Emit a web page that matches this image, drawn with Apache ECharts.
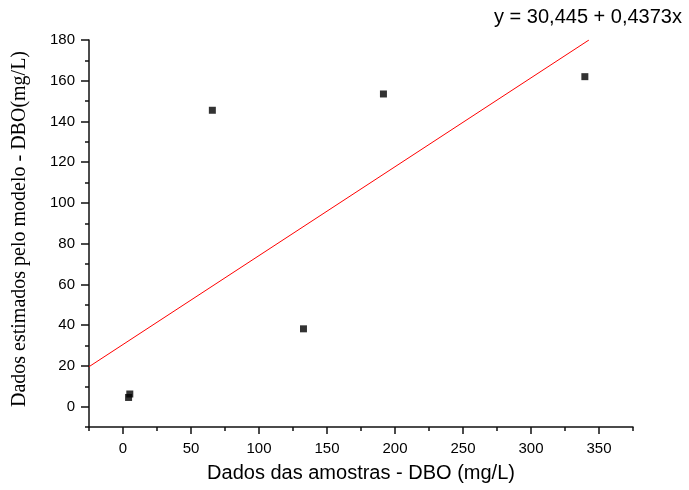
<!DOCTYPE html>
<html>
<head>
<meta charset="utf-8">
<script src="https://cdn.jsdelivr.net/npm/echarts@6/dist/echarts.min.js"></script>
<style>html,body{margin:0;padding:0;background:#fff;}#c{width:689px;height:490px;}</style>
</head>
<body>
<div id="c"></div>
<script>
// Data
const samplePoints = [[4.1, 4.5], [5.0, 6.2], [65.7, 145.5], [132.7, 38.2], [191.5, 153.5], [339.6, 162.0]];
const fitLine = [[-25, 19.6], [342.6, 180]];
const xMajorTicks = [0, 50, 100, 150, 200, 250, 300, 350];
const xMinorTicks = [-25, 25, 75, 125, 175, 225, 275, 325, 375];
const yMajorTicks = [0, 20, 40, 60, 80, 100, 120, 140, 160, 180];
const yMinorTicks = [-10, 10, 30, 50, 70, 90, 110, 130, 150, 170];
const equationText = 'y = 30,445 + 0,4373x';
const xTitle = 'Dados das amostras - DBO (mg/L)';
const yTitle = 'Dados estimados pelo modelo - DBO(mg/L)';

const chart = echarts.init(document.getElementById('c'), null, {renderer: 'canvas'});
const axisCol = '#111';
const sans = 'Liberation Sans';
function xAxisDef(major) {
  return {
    type: 'value', min: -25, max: 375, position: 'bottom', gridIndex: 0,
    axisLine: {show: major, onZero: false, lineStyle: {color: axisCol, width: 1.5}},
    axisTick: {show: true, length: major ? 7 : 4, customValues: major ? xMajorTicks : xMinorTicks,
      lineStyle: {color: axisCol, width: 1.5}},
    axisLabel: {show: major, customValues: xMajorTicks, margin: 14, color: '#000', fontSize: 15, fontFamily: sans},
    splitLine: {show: false}
  };
}
function yAxisDef(major) {
  return {
    type: 'value', min: -10, max: 180, position: 'left', gridIndex: 0,
    axisLine: {show: major, onZero: false, lineStyle: {color: axisCol, width: 1.5}},
    axisTick: {show: true, length: major ? 8 : 4, customValues: major ? yMajorTicks : yMinorTicks,
      lineStyle: {color: axisCol, width: 1.5}},
    axisLabel: {show: major, customValues: yMajorTicks, margin: 14, color: '#000', fontSize: 15, fontFamily: sans},
    splitLine: {show: false}
  };
}
chart.setOption({
  animation: false,
  backgroundColor: '#fff',
  grid: {left: 89, right: 56, top: 40, bottom: 63, containLabel: false},
  xAxis: [xAxisDef(true), xAxisDef(false)],
  yAxis: [yAxisDef(true), yAxisDef(false)],
  series: [
    {
      type: 'line', data: fitLine, xAxisIndex: 0, yAxisIndex: 0, showSymbol: false, symbol: 'none',
      lineStyle: {color: '#ff0000', width: 1}, clip: true, z: 2
    },
    {
      type: 'scatter', data: samplePoints, xAxisIndex: 0, yAxisIndex: 0,
      symbol: 'rect', symbolSize: 7, itemStyle: {color: '#000'}, z: 3
    }
  ],
  graphic: [
    {type: 'text', x: 588, y: 17, style: {text: equationText, font: '20px "Liberation Sans"', fill: '#000', textAlign: 'center', textVerticalAlign: 'middle'}},
    {type: 'text', x: 361, y: 473, style: {text: xTitle, font: '20px "Liberation Sans"', fill: '#000', textAlign: 'center', textVerticalAlign: 'middle'}},
    {type: 'text', x: 20, y: 229, rotation: Math.PI / 2, style: {text: yTitle, font: '20px "Liberation Serif"', fill: '#000', textAlign: 'center', textVerticalAlign: 'middle'}}
  ]
});
</script>
</body>
</html>
